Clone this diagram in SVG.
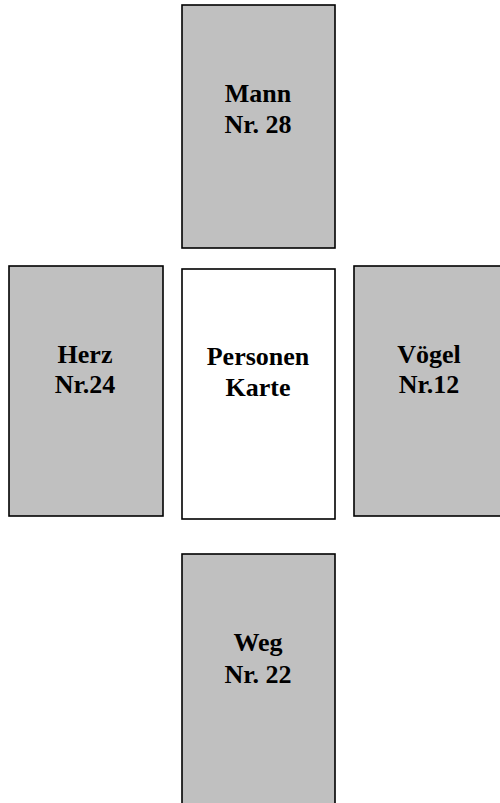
<svg xmlns="http://www.w3.org/2000/svg" width="500" height="803" viewBox="0 0 500 803">
<style>
.card{fill:#c0c0c0;stroke:#000;stroke-width:1.6}
.center{fill:#fff;stroke:#000;stroke-width:1.6}
.lbl{font-family:"Liberation Serif","Times New Roman",serif;font-weight:bold;font-size:26px;fill:#000;text-anchor:middle}
</style>
<rect width="500" height="803" fill="#fff"/>
<g id="connectors"></g>
<g id="mann">
<rect class="card" x="182" y="5" width="153" height="243"/>
<text class="lbl" x="258" y="102">Mann</text>
<text class="lbl" x="258" y="133">Nr. 28</text>
</g>
<g id="herz">
<rect class="card" x="9" y="266" width="154" height="250"/>
<text class="lbl" x="85" y="363">Herz</text>
<text class="lbl" x="85" y="393">Nr.24</text>
</g>
<g id="personen">
<rect class="center" x="182" y="269" width="153" height="250"/>
<text class="lbl" x="258" y="365">Personen</text>
<text class="lbl" x="258" y="396">Karte</text>
</g>
<g id="voegel">
<rect class="card" x="354" y="266" width="154" height="250"/>
<text class="lbl" x="429" y="363">Vögel</text>
<text class="lbl" x="429" y="393">Nr.12</text>
</g>
<g id="weg">
<rect class="card" x="182" y="554" width="153" height="260"/>
<text class="lbl" x="258" y="651">Weg</text>
<text class="lbl" x="258" y="683">Nr. 22</text>
</g>
</svg>
